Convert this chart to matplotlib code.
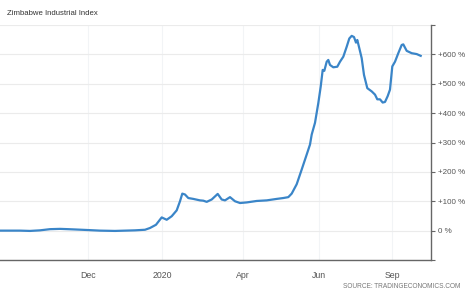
import matplotlib.pyplot as plt

plt.rcParams['font.family'] = ['Liberation Sans', 'DejaVu Sans']

# session index (chart x units) and index change in %
x = [0, 10, 20, 30, 40, 50, 60, 68, 75, 88, 100, 115, 125, 135, 145, 150, 156,
     161.7, 166.7, 171.7, 176.7, 180, 182.3, 185, 188.3, 193.3, 200, 203.3, 206.7,
     211.7, 217.7, 221.7, 225, 230, 235, 240, 246.7, 256.7, 266.7, 276.7, 283.3,
     288.3, 291.7, 296.7, 301.7, 306.7, 310, 311.7, 315, 318.3, 320.7, 322.7,
     324.3, 326.7, 328.3, 330, 333.3, 337.3, 340, 343.3, 346.7, 349.3, 351.7, 354,
     356, 357.3, 359.3, 361.7, 364, 367.3, 371.7, 375, 377.3, 380, 382.7, 385,
     387.7, 390, 392.3, 395, 398.3, 401.7, 403.3, 406.7, 411.7, 416.7, 420.7]
y = [0, 0, 0, -1, 1, 5, 6, 5, 4, 2, 0, -1, 0, 1, 3, 9, 20,
     45, 37, 49, 69, 100, 126, 123, 111, 108, 103, 102, 98,
     106, 125, 106, 103, 114, 100, 94, 96, 101, 103, 108, 111,
     114, 126, 158, 208, 259, 293, 327, 367, 434, 490, 547,
     544, 575, 581, 564, 556, 558, 575, 592, 626, 654, 663, 659,
     640, 649, 621, 587, 530, 485, 474, 463, 447, 447, 436, 438,
     458, 480, 559, 575, 604, 632, 634, 612, 604, 601, 595]

tick_pos = [88, 162, 243, 319, 392]
tick_labels = ["Dec", "2020", "Apr", "Jun", "Sep"]
y_ticks = [0, 100, 200, 300, 400, 500, 600]

fig = plt.figure(figsize=(4.68, 2.94), dpi=100)
ax = fig.add_axes([0, 0.1156, 0.922, 0.7994])

ax.plot(x, y, color='#3a85c8', linewidth=1.6, solid_joinstyle='round')

ax.set_xlim(0, 431.5)
ax.set_ylim(-100, 700)

ax.set_xticks(tick_pos)
ax.set_xticklabels(tick_labels)
ax.set_yticks([-100] + y_ticks + [700])
ax.set_yticklabels([""] + [("+%d %%" % v) if v > 0 else "0 %" for v in y_ticks] + [""])

ax.yaxis.tick_right()
ax.tick_params(axis='y', direction='out', length=3, width=0.8, color='#666666',
               labelsize=5.8, labelcolor='#555555', pad=2)
ax.tick_params(axis='x', length=0, labelsize=6.3, labelcolor='#555555', pad=8)

ax.grid(True, color='#ebebeb', linewidth=0.8)
ax.grid(True, axis='x', color='#f2f4f6', linewidth=0.8)
ax.set_axisbelow(True)

for side in ['left', 'top']:
    ax.spines[side].set_visible(False)
ax.spines['right'].set_color('#666666')
ax.spines['bottom'].set_color('#666666')
ax.spines['right'].set_linewidth(1.0)
ax.spines['bottom'].set_linewidth(1.0)

fig.text(0.015, 0.955, "Zimbabwe Industrial Index", fontsize=5.6, color='#333333',
         ha='left', va='center')
fig.text(0.983, 0.013, "SOURCE: TRADINGECONOMICS.COM", fontsize=4.7, color='#777777',
         ha='right', va='bottom')

fig.savefig("out.png", dpi=100)
